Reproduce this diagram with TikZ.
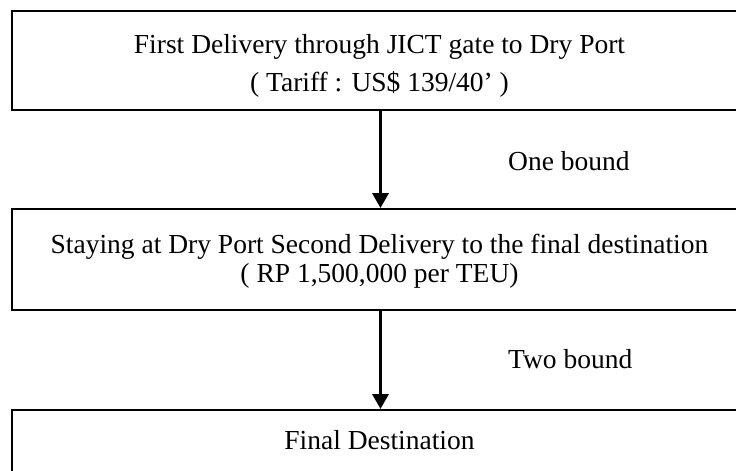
\documentclass[tikz,border=0pt]{standalone}
\usepackage{fontspec}
\setmainfont{Liberation Serif}
\usetikzlibrary{arrows.meta}
\begin{document}
\begin{tikzpicture}[x=1pt,y=-1pt,
  box/.style={draw,line width=2pt,minimum width=737pt,inner sep=0pt,anchor=north west},
  txt/.style={font=\fontsize{27.5}{33}\selectfont,align=center,anchor=base,inner sep=0pt},
  lbl/.style={font=\fontsize{27.5}{33}\selectfont,anchor=base west,inner sep=0pt},
  arr/.style={line width=3.5pt,-{Triangle[width=16pt,length=15pt]}}]
\useasboundingbox (0,0) rectangle (736,471);
\clip (0,0) rectangle (736,471);
\node[box,minimum height=99pt] (b1) at (11,10) {};
\node[box,minimum height=101pt] (b2) at (11,208) {};
\node[box,minimum height=100pt] (b3) at (11,409) {};
\node[txt] (t1a) at (379.5,53) {First Delivery through JICT gate to Dry Port};
\node[txt] (t1b) at (379.5,91) {( Tariff : US\$ 139/40’ )};
\node[txt] (t2a) at (379.5,253) {Staying at Dry Port Second Delivery to the final destination};
\node[txt] (t2b) at (379.5,282) {( RP 1,500,000 per TEU)};
\node[txt] (t3) at (379.5,449) {Final Destination};
\node[lbl] (l1) at (508,170) {One bound};
\node[lbl] (l2) at (508,368) {Two bound};
\draw[arr] (b1.south) -- (b2.north);
\draw[arr] (b2.south) -- (b3.north);
\end{tikzpicture}
\end{document}
